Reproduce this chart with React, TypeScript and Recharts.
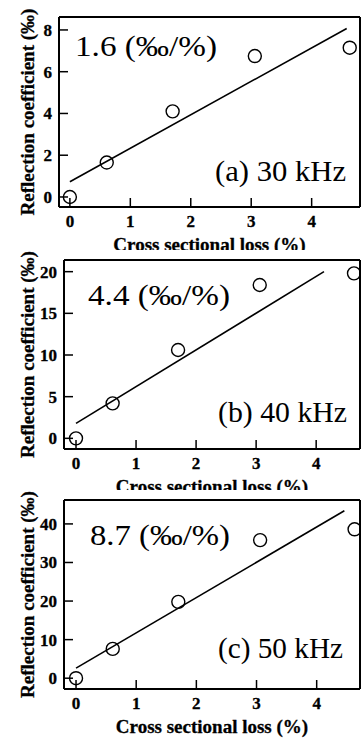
import React from "react"
import { ComposedChart, Line, Scatter, XAxis, YAxis } from "recharts"

// measured points (cross sectional loss in %, reflection coefficient in ‰)
const loss = [0, 0.61, 1.7, 3.06, 4.63]
const refl30 = [0, 1.65, 4.1, 6.75, 7.15]
const refl40 = [0, 4.2, 10.6, 18.4, 19.8]
const refl50 = [0, 7.6, 19.8, 35.8, 38.6]

// end points of the fitted lines
const fitLoss30 = [0, 4.58]
const fitRefl30 = [0.73, 8.07]
const fitLoss40 = [0, 4.13]
const fitRefl40 = [1.8, 20.0]
const fitLoss50 = [0, 4.46]
const fitRefl50 = [2.6, 43.4]

const xTicks = [0, 1, 2, 3, 4]
const yTicks30 = [0, 2, 4, 6, 8]
const yTicks40 = [0, 5, 10, 15, 20]
const yTicks50 = [0, 10, 20, 30, 40]

const slopes = ["1.6 (‰/%)", "4.4 (‰/%)", "8.7 (‰/%)"]
const freqs = ["(a) 30 kHz", "(b) 40 kHz", "(c) 50 kHz"]

const X_TITLE = "Cross sectional loss (%)"
const Y_TITLE = "Reflection coefficient (‰)"

const SERIF = "Liberation Serif, Times New Roman, Times, serif"

const zip = (xs: number[], ys: number[]) => xs.map((x, i) => ({ x, y: ys[i] }))

interface PanelProps {
  points: { x: number; y: number }[]
  fit: { x: number; y: number }[]
  xDomain: [number, number]
  yDomain: [number, number]
  yTicks: number[]
  slope: string
  freq: string
  top: number
  clipHeight: number
  chartHeight: number
  marginTop: number
  axisWidth: number
  plotBottom: number
  slopePos: [number, number, number]
  freqPos: [number, number, number]
}

function Circle(props: any) {
  const { cx, cy } = props
  return <circle cx={cx} cy={cy} r={6.5} fill="none" stroke="#000" strokeWidth={1.4} />
}

const labelText = {
  fontFamily: SERIF,
  fontWeight: "bold",
  fill: "#000",
  stroke: "#000",
  strokeWidth: 0.3,
}

const frame = { stroke: "#000", strokeWidth: 2 }
const tickMark = { stroke: "#000", strokeWidth: 1.5 }

function Panel(p: PanelProps) {
  const W = 361
  const xAxisHeight = p.chartHeight - p.plotBottom
  const plotTop = p.marginTop + 1
  const plotMid = (plotTop + p.plotBottom) / 2
  const plotCenterX = (p.axisWidth + 360) / 2

  // tick labels sit just outside the frame, the marks point inwards
  const xTick = (t: any) => (
    <text x={t.x} y={p.plotBottom + 8} dy="0.72em" textAnchor="middle" fontSize={17} {...labelText}>
      {t.payload.value}
    </text>
  )
  const yTick = (t: any) => (
    <text x={p.axisWidth - 7} y={t.y} dy="0.35em" textAnchor="end" fontSize={17} {...labelText}>
      {t.payload.value}
    </text>
  )

  return (
    <div
      style={{
        position: "absolute",
        left: 0,
        top: p.top,
        width: W,
        height: p.clipHeight,
        overflow: "hidden",
      }}
    >
      <ComposedChart
        width={W}
        height={p.chartHeight}
        margin={{ top: p.marginTop, right: 0, bottom: 0, left: 0 }}
      >
        <XAxis
          xAxisId="b"
          type="number"
          dataKey="x"
          domain={p.xDomain}
          ticks={xTicks}
          height={xAxisHeight}
          tickSize={-9}
          tickMargin={16}
          tick={xTick}
          axisLine={frame}
          tickLine={tickMark}
          label={() => (
            <text
              x={plotCenterX}
              y={p.plotBottom + 44}
              textAnchor="middle"
              fontSize={19}
              {...labelText}
            >
              {X_TITLE}
            </text>
          )}
        />
        <XAxis
          xAxisId="t"
          orientation="top"
          type="number"
          domain={p.xDomain}
          ticks={xTicks}
          height={1}
          tickSize={-9}
          tickFormatter={() => ""}
          axisLine={frame}
          tickLine={tickMark}
        />
        <YAxis
          yAxisId="l"
          type="number"
          domain={p.yDomain}
          ticks={p.yTicks}
          width={p.axisWidth}
          tickSize={-9}
          tickMargin={16}
          tick={yTick}
          axisLine={frame}
          tickLine={tickMark}
          label={() => (
            <text
              x={27}
              y={plotMid}
              transform={`rotate(-90, 27, ${plotMid})`}
              textAnchor="middle"
              dominantBaseline="central"
              fontSize={19}
              {...labelText}
            >
              {Y_TITLE}
            </text>
          )}
        />
        <YAxis
          yAxisId="r"
          orientation="right"
          type="number"
          domain={p.yDomain}
          ticks={p.yTicks}
          width={1}
          tickSize={-9}
          tickFormatter={() => ""}
          axisLine={frame}
          tickLine={tickMark}
        />
        <Line
          xAxisId="b"
          yAxisId="l"
          data={p.fit}
          dataKey="y"
          type="linear"
          dot={false}
          stroke="#000"
          strokeWidth={1.6}
          isAnimationActive={false}
        />
        <Scatter
          xAxisId="b"
          yAxisId="l"
          data={p.points}
          dataKey="y"
          shape={Circle}
          isAnimationActive={false}
        />
      </ComposedChart>
      <svg
        width={W}
        height={p.clipHeight}
        style={{ position: "absolute", left: 0, top: 0, pointerEvents: "none" }}
      >
        <text
          x={p.slopePos[0]}
          y={p.slopePos[1]}
          textLength={p.slopePos[2]}
          lengthAdjust="spacingAndGlyphs"
          fontFamily={SERIF}
          fontSize={29}
          fill="#000"
        >
          {p.slope}
        </text>
        <text
          x={p.freqPos[0]}
          y={p.freqPos[1]}
          textLength={p.freqPos[2]}
          lengthAdjust="spacingAndGlyphs"
          fontFamily={SERIF}
          fontSize={29}
          fill="#000"
        >
          {p.freq}
        </text>
      </svg>
    </div>
  )
}

export default function App() {
  return (
    <div style={{ position: "absolute", left: 0, top: 0, width: 361, height: 740, background: "#fff" }}>
      <Panel
        points={zip(loss, refl30)}
        fit={zip(fitLoss30, fitRefl30)}
        xDomain={[-0.18, 4.8]}
        yDomain={[-0.48, 8.62]}
        yTicks={yTicks30}
        slope={slopes[0]}
        freq={freqs[0]}
        top={0}
        clipHeight={250}
        chartHeight={280}
        marginTop={16}
        axisWidth={59}
        plotBottom={207}
        slopePos={[75, 56, 142]}
        freqPos={[215, 181, 131]}
      />
      <Panel
        points={zip(loss, refl40)}
        fit={zip(fitLoss40, fitRefl40)}
        xDomain={[-0.2, 4.73]}
        yDomain={[-1.28, 21.4]}
        yTicks={yTicks40}
        slope={slopes[1]}
        freq={freqs[1]}
        top={250}
        clipHeight={240}
        chartHeight={272}
        marginTop={9}
        axisWidth={64}
        plotBottom={199}
        slopePos={[88, 55, 142]}
        freqPos={[218, 172, 129]}
      />
      <Panel
        points={zip(loss, refl50)}
        fit={zip(fitLoss50, fitRefl50)}
        xDomain={[-0.2, 4.72]}
        yDomain={[-2.8, 46.2]}
        yTicks={yTicks50}
        slope={slopes[2]}
        freq={freqs[2]}
        top={490}
        clipHeight={250}
        chartHeight={250}
        marginTop={9}
        axisWidth={64}
        plotBottom={199}
        slopePos={[90, 55, 140]}
        freqPos={[218, 168, 125]}
      />
    </div>
  )
}
